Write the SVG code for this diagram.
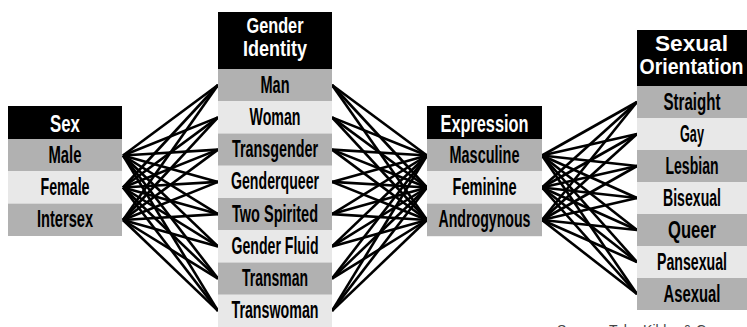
<svg xmlns="http://www.w3.org/2000/svg" width="747" height="327" viewBox="0 0 747 327">
<style>
.hd{fill:#000}
.dk{fill:#b1b1b1}
.lt{fill:#e8e8e8}
text{font-family:"Liberation Sans",Arial,sans-serif;font-weight:bold;text-anchor:middle}
.ht{fill:#fff;font-size:23px}
.h2{fill:#fff;font-size:22px}
.rt{fill:#000;font-size:23px}
.src{font-family:"Liberation Sans",Arial,sans-serif;font-weight:normal;font-size:14px;fill:#444;text-anchor:start}
#connectors line{stroke:#000;stroke-width:2.6;stroke-linecap:butt}
</style>
<rect width="747" height="327" fill="#fff"/>

<g id="connectors">
<!-- Sex -> Gender Identity -->
<line x1="123" y1="155.5" x2="218" y2="85"/><line x1="123" y1="155.5" x2="218" y2="117.4"/><line x1="123" y1="155.5" x2="218" y2="149.6"/><line x1="123" y1="155.5" x2="218" y2="181.9"/><line x1="123" y1="155.5" x2="218" y2="214.1"/><line x1="123" y1="155.5" x2="218" y2="246.4"/><line x1="123" y1="155.5" x2="218" y2="278.6"/><line x1="123" y1="155.5" x2="218" y2="310.9"/>
<line x1="123" y1="187.5" x2="218" y2="85"/><line x1="123" y1="187.5" x2="218" y2="117.4"/><line x1="123" y1="187.5" x2="218" y2="149.6"/><line x1="123" y1="187.5" x2="218" y2="181.9"/><line x1="123" y1="187.5" x2="218" y2="214.1"/><line x1="123" y1="187.5" x2="218" y2="246.4"/><line x1="123" y1="187.5" x2="218" y2="278.6"/><line x1="123" y1="187.5" x2="218" y2="310.9"/>
<line x1="123" y1="220" x2="218" y2="85"/><line x1="123" y1="220" x2="218" y2="117.4"/><line x1="123" y1="220" x2="218" y2="149.6"/><line x1="123" y1="220" x2="218" y2="181.9"/><line x1="123" y1="220" x2="218" y2="214.1"/><line x1="123" y1="220" x2="218" y2="246.4"/><line x1="123" y1="220" x2="218" y2="278.6"/><line x1="123" y1="220" x2="218" y2="310.9"/>
<!-- Gender Identity -> Expression -->
<line x1="332" y1="85" x2="427" y2="155.5"/><line x1="332" y1="117.4" x2="427" y2="155.5"/><line x1="332" y1="149.6" x2="427" y2="155.5"/><line x1="332" y1="181.9" x2="427" y2="155.5"/><line x1="332" y1="214.1" x2="427" y2="155.5"/><line x1="332" y1="246.4" x2="427" y2="155.5"/><line x1="332" y1="278.6" x2="427" y2="155.5"/><line x1="332" y1="310.9" x2="427" y2="155.5"/>
<line x1="332" y1="85" x2="427" y2="187.5"/><line x1="332" y1="117.4" x2="427" y2="187.5"/><line x1="332" y1="149.6" x2="427" y2="187.5"/><line x1="332" y1="181.9" x2="427" y2="187.5"/><line x1="332" y1="214.1" x2="427" y2="187.5"/><line x1="332" y1="246.4" x2="427" y2="187.5"/><line x1="332" y1="278.6" x2="427" y2="187.5"/><line x1="332" y1="310.9" x2="427" y2="187.5"/>
<line x1="332" y1="85" x2="427" y2="220"/><line x1="332" y1="117.4" x2="427" y2="220"/><line x1="332" y1="149.6" x2="427" y2="220"/><line x1="332" y1="181.9" x2="427" y2="220"/><line x1="332" y1="214.1" x2="427" y2="220"/><line x1="332" y1="246.4" x2="427" y2="220"/><line x1="332" y1="278.6" x2="427" y2="220"/><line x1="332" y1="310.9" x2="427" y2="220"/>
<!-- Expression -> Sexual Orientation -->
<line x1="542" y1="155.5" x2="637" y2="102"/><line x1="542" y1="155.5" x2="637" y2="134"/><line x1="542" y1="155.5" x2="637" y2="166"/><line x1="542" y1="155.5" x2="637" y2="198"/><line x1="542" y1="155.5" x2="637" y2="230"/><line x1="542" y1="155.5" x2="637" y2="262"/><line x1="542" y1="155.5" x2="637" y2="294"/>
<line x1="542" y1="187.5" x2="637" y2="102"/><line x1="542" y1="187.5" x2="637" y2="134"/><line x1="542" y1="187.5" x2="637" y2="166"/><line x1="542" y1="187.5" x2="637" y2="198"/><line x1="542" y1="187.5" x2="637" y2="230"/><line x1="542" y1="187.5" x2="637" y2="262"/><line x1="542" y1="187.5" x2="637" y2="294"/>
<line x1="542" y1="220" x2="637" y2="102"/><line x1="542" y1="220" x2="637" y2="134"/><line x1="542" y1="220" x2="637" y2="166"/><line x1="542" y1="220" x2="637" y2="198"/><line x1="542" y1="220" x2="637" y2="230"/><line x1="542" y1="220" x2="637" y2="262"/><line x1="542" y1="220" x2="637" y2="294"/>
</g>

<g id="sex">
<rect class="hd" x="8" y="106" width="114" height="33"/>
<text class="ht" x="65" y="132" textLength="30" lengthAdjust="spacingAndGlyphs">Sex</text>
<g id="sex-male"><rect class="dk" x="8" y="139" width="114" height="32.3"/><text class="rt" x="65" y="162.5" textLength="33" lengthAdjust="spacingAndGlyphs">Male</text></g>
<g id="sex-female"><rect class="lt" x="8" y="171.3" width="114" height="32.3"/><text class="rt" x="65" y="194.8" textLength="49" lengthAdjust="spacingAndGlyphs">Female</text></g>
<g id="sex-intersex"><rect class="dk" x="8" y="203.6" width="114" height="32.4"/><text class="rt" x="65" y="227.1" textLength="56" lengthAdjust="spacingAndGlyphs">Intersex</text></g>
</g>

<g id="gender-identity">
<rect class="hd" x="218" y="12" width="114" height="57"/>
<text class="h2" x="275" y="33" textLength="57" lengthAdjust="spacingAndGlyphs">Gender</text>
<text class="h2" x="275" y="56" textLength="64" lengthAdjust="spacingAndGlyphs">Identity</text>
<g id="gi-man"><rect class="dk" x="218" y="69" width="114" height="32.25"/><text class="rt" x="275" y="92.5" textLength="29" lengthAdjust="spacingAndGlyphs">Man</text></g>
<g id="gi-woman"><rect class="lt" x="218" y="101.25" width="114" height="32.25"/><text class="rt" x="275" y="124.8" textLength="51" lengthAdjust="spacingAndGlyphs">Woman</text></g>
<g id="gi-transgender"><rect class="dk" x="218" y="133.5" width="114" height="32.25"/><text class="rt" x="275" y="157" textLength="86" lengthAdjust="spacingAndGlyphs">Transgender</text></g>
<g id="gi-genderqueer"><rect class="lt" x="218" y="165.75" width="114" height="32.25"/><text class="rt" x="275" y="189.3" textLength="88" lengthAdjust="spacingAndGlyphs">Genderqueer</text></g>
<g id="gi-twospirited"><rect class="dk" x="218" y="198" width="114" height="32.25"/><text class="rt" x="275" y="221.5" textLength="86" lengthAdjust="spacingAndGlyphs">Two Spirited</text></g>
<g id="gi-genderfluid"><rect class="lt" x="218" y="230.25" width="114" height="32.25"/><text class="rt" x="275" y="253.8" textLength="87" lengthAdjust="spacingAndGlyphs">Gender Fluid</text></g>
<g id="gi-transman"><rect class="dk" x="218" y="262.5" width="114" height="32.25"/><text class="rt" x="275" y="286" textLength="66" lengthAdjust="spacingAndGlyphs">Transman</text></g>
<g id="gi-transwoman"><rect class="lt" x="218" y="294.75" width="114" height="32.25"/><text class="rt" x="275" y="318.3" textLength="87" lengthAdjust="spacingAndGlyphs">Transwoman</text></g>
</g>

<g id="expression">
<rect class="hd" x="427" y="106" width="115" height="33"/>
<text class="ht" x="484.5" y="132" textLength="88" lengthAdjust="spacingAndGlyphs">Expression</text>
<g id="ex-masculine"><rect class="dk" x="427" y="139" width="115" height="32.3"/><text class="rt" x="484.5" y="162.5" textLength="70" lengthAdjust="spacingAndGlyphs">Masculine</text></g>
<g id="ex-feminine"><rect class="lt" x="427" y="171.3" width="115" height="32.3"/><text class="rt" x="484.5" y="194.8" textLength="64" lengthAdjust="spacingAndGlyphs">Feminine</text></g>
<g id="ex-androgynous"><rect class="dk" x="427" y="203.6" width="115" height="32.6"/><text class="rt" x="484.5" y="227.1" textLength="92" lengthAdjust="spacingAndGlyphs">Androgynous</text></g>
</g>

<g id="sexual-orientation">
<rect class="hd" x="637" y="30" width="110" height="56"/>
<text class="h2" x="691.5" y="51" textLength="73" lengthAdjust="spacingAndGlyphs">Sexual</text>
<text class="h2" x="691.5" y="74" textLength="104" lengthAdjust="spacingAndGlyphs">Orientation</text>
<g id="so-straight"><rect class="dk" x="637" y="86" width="110" height="32"/><text class="rt" x="692" y="109.5" textLength="57" lengthAdjust="spacingAndGlyphs">Straight</text></g>
<g id="so-gay"><rect class="lt" x="637" y="118" width="110" height="32"/><text class="rt" x="692" y="141.5" textLength="24" lengthAdjust="spacingAndGlyphs">Gay</text></g>
<g id="so-lesbian"><rect class="dk" x="637" y="150" width="110" height="32"/><text class="rt" x="692" y="173.5" textLength="53" lengthAdjust="spacingAndGlyphs">Lesbian</text></g>
<g id="so-bisexual"><rect class="lt" x="637" y="182" width="110" height="32"/><text class="rt" x="692" y="205.5" textLength="58" lengthAdjust="spacingAndGlyphs">Bisexual</text></g>
<g id="so-queer"><rect class="dk" x="637" y="214" width="110" height="32"/><text class="rt" x="692" y="237.5" textLength="48" lengthAdjust="spacingAndGlyphs">Queer</text></g>
<g id="so-pansexual"><rect class="lt" x="637" y="246" width="110" height="32"/><text class="rt" x="692" y="269.5" textLength="70" lengthAdjust="spacingAndGlyphs">Pansexual</text></g>
<g id="so-asexual"><rect class="dk" x="637" y="278" width="110" height="32"/><text class="rt" x="692" y="301.5" textLength="57" lengthAdjust="spacingAndGlyphs">Asexual</text></g>
</g>

<text class="src" x="557" y="335">Source: Tyler Kibbe &amp; Co.</text>
</svg>
